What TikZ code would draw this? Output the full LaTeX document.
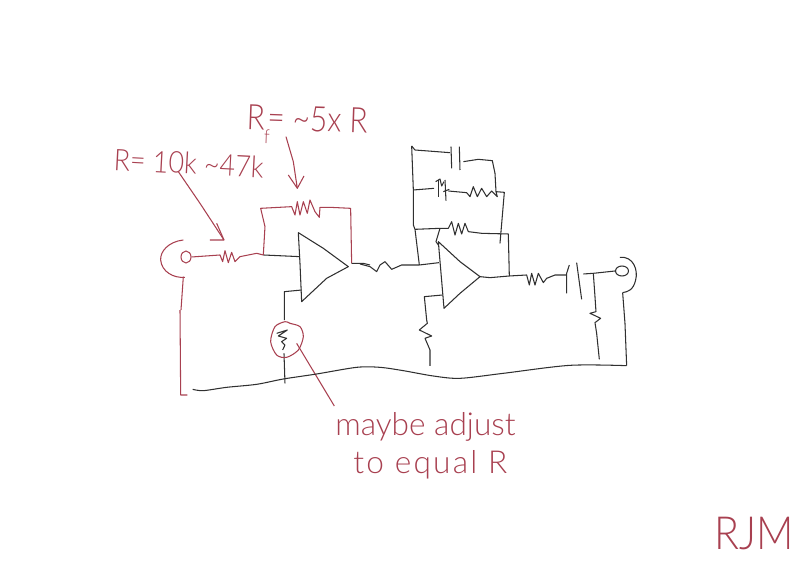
\documentclass[tikz,border=0pt]{standalone}
\usepackage{fontspec}
\setmainfont{Lato Light}
\usetikzlibrary{shapes.geometric,positioning}
\definecolor{sketchred}{HTML}{A84050}
\definecolor{sketchink}{HTML}{303030}
\tikzset{
 wire/.style={draw=sketchink, line width=.6pt, line join=round},
 redwire/.style={draw=sketchred, line width=.6pt, line join=round},
 jack/.style={ellipse, draw, line width=.6pt, inner sep=0pt, minimum width=.2cm, minimum height=.24cm},
 note/.style={text=sketchred, anchor=base west, inner sep=0pt}
}
\begin{document}
\begin{tikzpicture}[x=.02cm,y=-.02cm]
 \useasboundingbox (0,0) rectangle (800,574);
 % jacks
 \node (jackin) [jack, draw=sketchred] at (186,257) {};
 \node (jackout) [jack, draw=sketchink, minimum width=.26cm, minimum height=.2cm] at (622,271) {};

 % first stage, left part of the sketch
 \begin{scope}[shift={(100,90)},scale=.3333]
  \coordinate (fbl) at (490,495);
  \coordinate (fbr) at (755,520);
  % opamp
  \draw[wire] (595,428) -- (600,520) -- (605,635) -- (680,565) -- (745,530) -- (670,475) -- cycle;
  % input resistor
  \draw[redwire] (jackin.east) -- (360,495) -- (368,515) -- (375,482) -- (385,518) -- (395,487) -- (405,515) -- (420,500) -- (470,490) -- (fbl);
  \draw[wire] (fbl) -- (600,500);
  % feedback resistor
  \draw[redwire] (fbl) -- (495,410) -- (482,355) -- (575,350) -- (585,375) -- (592,335) -- (600,375) -- (610,335) -- (622,370) -- (630,330) -- (645,365) -- (658,382) -- (660,352) -- (690,352) -- (752,355) -- (fbr);
  \draw[wire] (fbr) -- (790,520) -- (810,525);
  % leaders
  \draw[redwire] (235,245) -- (300,340) -- (372,450) -- (330,450);
  \draw[redwire] (372,450) -- (350,400);
  \draw[redwire] (558,140) -- (580,215) -- (592,295) -- (565,255);
  \draw[redwire] (592,295) -- (612,258);
  % jack body
  \draw[redwire] (250,450) .. controls (205,455) and (180,485) .. (182,510) .. controls (185,545) and (220,565) .. (255,562);
  \draw[redwire] (250,560) -- (243,660);
 \end{scope}

 % second stage and output
 \begin{scope}[shift={(370,130)},scale=.3333]
  \coordinate (sumj) at (148,405);
  \coordinate (capl) at (130,180);
  \coordinate (fbtop) at (135,298);
  \coordinate (capr) at (378,185);
  \coordinate (outj) at (418,438);
  \coordinate (shuntj) at (670,430);
  % opamp
  \draw[wire] (205,335) -- (222,535) -- (270,490) -- (330,440) -- (270,395) -- cycle;
  % input from first stage
  \draw[wire] (-30,402) -- (0,410) -- (20,425) -- (30,405) -- (45,395) -- (65,418) -- (95,405) -- (sumj) -- (207,398);
  % feedback network
  \draw[wire] (125,48) -- (capl) -- (130,285) -- (fbtop) -- (sumj);
  \draw[wire] (125,48) -- (135,60) -- (240,68);
  \draw[wire] (243,50) -- (245,115);
  \draw[wire] (268,50) -- (270,120);
  \draw[wire] (280,95) -- (325,88) -- (367,92) -- (375,130) -- (capr);
  \draw[wire] (capl) -- (192,175);
  \draw[wire] (205,150) -- (205,200);
  \draw[wire] (225,150) -- (228,212);
  \draw[wire] (197,155) -- (210,147) -- (215,168) -- (222,155);
  \draw[wire] (238,178) -- (220,185);
  \draw[wire] (235,183) -- (290,188) -- (300,200) -- (310,170) -- (322,200) -- (335,175) -- (350,200) -- (365,183) -- (382,200) -- (capr) -- (403,187) -- (390,340);
  \draw[wire] (fbtop) -- (210,295) -- (235,295) -- (245,275) -- (255,315) -- (265,280) -- (275,312) -- (285,280) -- (295,305) -- (335,310) -- (415,312) -- (outj);
  \draw[wire] (210,295) -- (198,335) -- (205,345);
  % output
  \draw[wire] (330,440) -- (360,443) -- (outj) -- (470,435) -- (478,465) -- (485,430) -- (495,465) -- (505,430) -- (520,458) -- (530,445) -- (555,435) -- (590,435);
  \draw[wire] (598,405) -- (590,430) -- (590,490);
  \draw[wire] (620,398) -- (635,508);
  \draw[wire] (640,432) -- (shuntj) -- (jackout.west);
  \draw[wire] (shuntj) -- (675,500) -- (678,545) -- (660,550) -- (692,565) -- (675,578) -- (680,610) -- (688,688);
  % grounded resistor of the second stage
  \draw[wire] (218,495) -- (163,500) -- (170,570) -- (172,580) -- (148,600) -- (185,618) -- (165,625) -- (180,660) -- (180,708);
  % jack body and return
  \draw[wire] (750,382) .. controls (790,378) and (805,420) .. (797,450) .. controls (790,480) and (775,485) .. (758,488);
  \draw[wire] (758,488) -- (765,580) -- (770,707);
 \end{scope}

 % the pot and its note, the return rail
 \begin{scope}[shift={(150,300)},scale=.3333]
  \coordinate (potin) at (403,60);
  \coordinate (potout) at (402,160);
  \draw[wire] (455,-30) -- (403,-25) -- (403,20) -- (potin);
  \draw[wire] (380,100) -- (412,90) -- (385,108) -- (410,115) -- (395,125) -- (405,135) -- (398,150);
  \draw[wire] (potout) -- (405,250);
  \draw[redwire, smooth cycle] plot coordinates {(405,65) (375,80) (362,125) (380,165) (410,172) (445,150) (460,110) (450,80) (420,70)};
  \draw[redwire] (440,130) -- (553,318);
  \draw[redwire] (90,30) -- (92,285) -- (112,285);
  \draw[wire, smooth] plot coordinates {(128,268) (160,272) (230,262) (320,253) (400,237) (500,222) (620,202) (690,202) (760,212) (850,228) (930,235) (1060,220) (1260,196) (1430,197)};
 \end{scope}

 % labels
 \node[note, rotate=-3, xscale=.9] (lblr) at (113,170) {\fontsize{17}{17}\selectfont R= 10k \textasciitilde47k};
 \node[note, rotate=-2, xscale=.85] (lblrf) at (246,129) {\fontsize{20}{20}\selectfont R\raisebox{-.4em}{\fontsize{11}{11}\selectfont f}\kern-.1em= \textasciitilde5x R};
 \node[note] (lbladj) at (335,435) {\fontsize{18}{18}\selectfont maybe adjust};
 \node[note] (lbleq) at (353,473) {\fontsize{18}{18}\selectfont\addfontfeature{LetterSpace=7}to equal R};
 \node[note, xscale=.9] (lblsig) at (714,549) {\fontsize{26}{26}\selectfont RJM};
\end{tikzpicture}
\end{document}
